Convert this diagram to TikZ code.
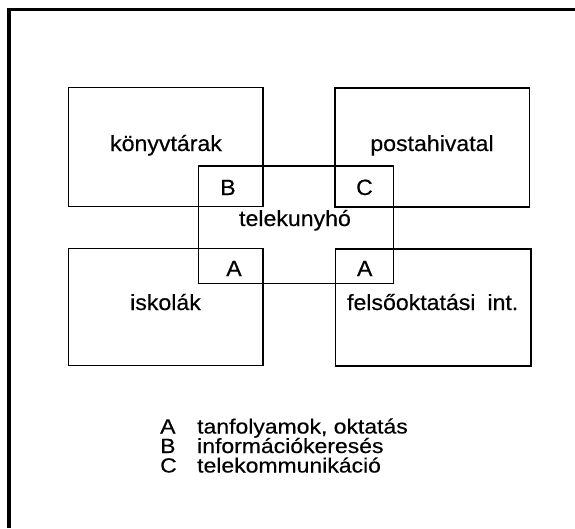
\documentclass[tikz,border=0pt]{standalone}
\usepackage{fontspec}
\setmainfont{Liberation Sans}[FakeStretch=1.05,FakeBold=0.4]
\newfontfamily\legfont{Liberation Sans}[FakeStretch=1.12,FakeBold=0.4]
\begin{document}
\begin{tikzpicture}[x=1pt,y=-1pt,
  areabox/.style={draw, line width=1.1pt, inner sep=0pt, minimum width=#1},
  lbl/.style={inner sep=0pt, anchor=base, font=\fontsize{22}{24}\selectfont},
  legend/.style={inner sep=0pt, anchor=base west, align=left,
    font=\legfont\fontsize{20.5}{19.5}\selectfont}]
\useasboundingbox (0,0) rectangle (575,528);
% frame (only top and left edges are visible)
\draw[line width=3.5pt] (575,9.5) -- (9,9.5) -- (9,528);
% boxes
\node[areabox=194.5pt, minimum height=119pt] (kv) at (165.75,147) {};
\node[areabox=194.5pt, minimum height=119pt] (ph) at (432.25,147.5) {};
\node[areabox=195pt, minimum height=117.3pt] (tk) at (295.8,224.65) {};
\node[areabox=194.5pt, minimum height=117pt] (is) at (165.75,307) {};
\node[areabox=195.5pt, minimum height=117pt] (fo) at (433.25,307.5) {};
% labels
\node[lbl] (tkv) at (166,151) {könyvtárak};
\node[lbl] (tph) at (432,151) {postahivatal};
\node[lbl] (tB) at (228,195) {B};
\node[lbl] (tC) at (364.5,195) {C};
\node[lbl] (ttk) at (295,226) {telekunyhó};
\node[lbl] (tA1) at (234,276) {A};
\node[lbl] (tA2) at (364.7,276) {A};
\node[lbl] (tis) at (165.5,310) {iskolák};
\node[lbl] (tfo) at (432.7,310) {felsőoktatási\hspace{12pt}int.};
% legend (base anchor = baseline of its last line)
\node[legend] (leg) at (160,472.5) {%
  \makebox[37pt][l]{A}tanfolyamok, oktatás\\
  \makebox[37pt][l]{B}információkeresés\\
  \makebox[37pt][l]{C}telekommunikáció};
\end{tikzpicture}
\end{document}
